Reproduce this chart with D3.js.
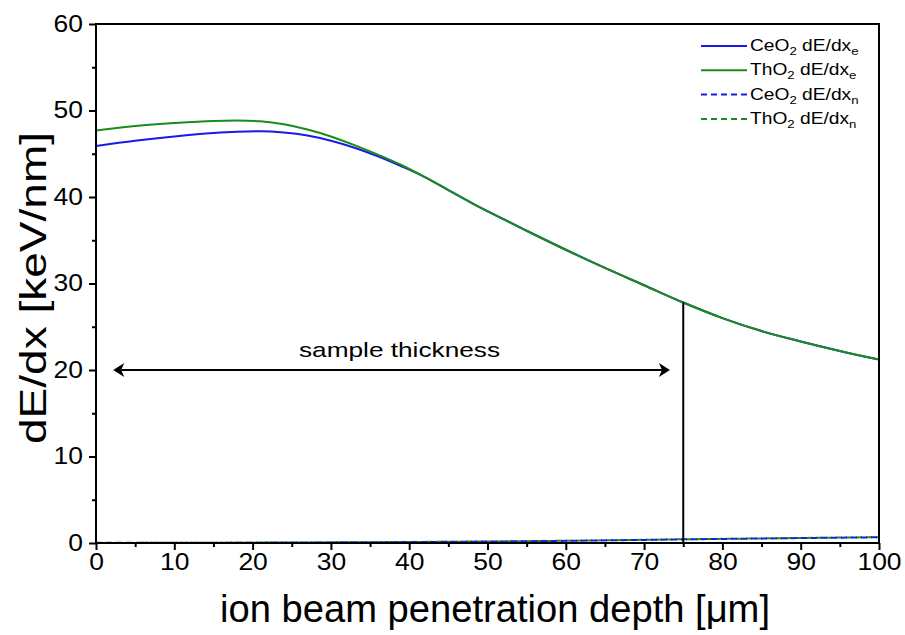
<!DOCTYPE html>
<html>
<head>
<meta charset="utf-8">
<script src="https://cdn.jsdelivr.net/npm/d3@7"></script>
<style>
  html, body { margin: 0; padding: 0; background: #fff; }
  svg { display: block; font-family: "Liberation Sans", Arial, sans-serif; }
</style>
</head>
<body>
<svg id="chart" width="905" height="635"></svg>
<script>
// Depth positions (µm) and electronic stopping power (keV/nm)
const depthE   = [0, 5, 10, 15, 18, 21, 24, 27, 30, 33, 36, 39, 42, 45, 48, 51, 55, 60, 65, 70, 75, 80, 85, 90, 95, 100];
const ceO2Elec = [45.9, 46.5, 47.0, 47.4, 47.55, 47.6, 47.45, 47.1, 46.5, 45.7, 44.7, 43.55, 42.3, 40.8, 39.3, 37.9, 36.1, 33.9, 31.8, 29.8, 27.8, 26.0, 24.5, 23.3, 22.2, 21.2];
const thO2Elec = [47.7, 48.2, 48.55, 48.8, 48.85, 48.75, 48.4, 47.8, 47.0, 46.0, 44.9, 43.7, 42.3, 40.8, 39.3, 37.9, 36.1, 33.9, 31.8, 29.8, 27.8, 26.0, 24.5, 23.3, 22.2, 21.2];

// Nuclear stopping power (keV/nm)
const depthN   = [0, 10, 20, 30, 40, 50, 60, 70, 75, 80, 90, 100];
const ceO2Nucl = [0.01, 0.02, 0.04, 0.07, 0.11, 0.17, 0.25, 0.36, 0.42, 0.47, 0.57, 0.66];
const thO2Nucl = [0.02, 0.03, 0.05, 0.08, 0.12, 0.18, 0.26, 0.37, 0.43, 0.48, 0.58, 0.67];

const xTicks = [0, 10, 20, 30, 40, 50, 60, 70, 80, 90, 100];
const yTicks = [0, 10, 20, 30, 40, 50, 60];

const thicknessRange = [2.2, 73.3];
const thicknessLevel = 20;
const thicknessEnd = 75;
const thicknessTop = 27.8;

const seriesNames = ["CeO", "ThO", "CeO", "ThO"];
const seriesSubs = ["e", "e", "n", "n"];

const svg = d3.select("#chart");
const m = { left: 96, right: 879, top: 24, bottom: 543 };

const x = d3.scaleLinear().domain([0, 100]).range([m.left, m.right]);
const y = d3.scaleLinear().domain([0, 60]).range([m.bottom, m.top]);

const BLUE = "#1a1ae8";
const GREEN = "#198c19";

// stretch a text element to a given rendered width
function fitWidth(sel, ratioOrWidth, isRatio) {
  sel.each(function () {
    const w = this.getComputedTextLength();
    const target = isRatio ? w * ratioOrWidth : ratioOrWidth;
    d3.select(this).attr("textLength", target).attr("lengthAdjust", "spacingAndGlyphs");
  });
}

svg.append("defs").append("clipPath").attr("id", "plotclip")
  .append("rect").attr("x", m.left).attr("y", m.top)
  .attr("width", m.right - m.left).attr("height", m.bottom - m.top);

const line = d3.line().x(d => x(d[0])).y(d => y(d[1])).curve(d3.curveMonotoneX);

const plot = svg.append("g").attr("clip-path", "url(#plotclip)");

const series = [
  { xs: depthN, ys: thO2Nucl, color: GREEN, dash: "6,4" },
  { xs: depthN, ys: ceO2Nucl, color: BLUE, dash: "6,4", offset: 5 },
  { xs: depthE, ys: ceO2Elec, color: BLUE, dash: null },
  { xs: depthE, ys: thO2Elec, color: GREEN, dash: null }
];
series.forEach(s => {
  plot.append("path")
    .datum(s.xs.map((v, i) => [v, s.ys[i]]))
    .attr("d", line)
    .attr("fill", "none")
    .attr("stroke", s.color)
    .attr("stroke-width", 2)
    .attr("stroke-dasharray", s.dash)
    .attr("stroke-dashoffset", s.offset || 0);
});

// Sample-thickness marker: vertical line from the axis up to the curve
svg.append("line")
  .attr("x1", x(thicknessEnd)).attr("x2", x(thicknessEnd))
  .attr("y1", y(0)).attr("y2", y(thicknessTop))
  .attr("stroke", "#000").attr("stroke-width", 2);

// Double-headed arrow
const ay = y(thicknessLevel);
const ax1 = x(thicknessRange[0]), ax2 = x(thicknessRange[1]);
svg.append("line")
  .attr("x1", ax1 + 8).attr("x2", ax2 - 8)
  .attr("y1", ay).attr("y2", ay)
  .attr("stroke", "#000").attr("stroke-width", 2);
svg.append("path")
  .attr("d", `M${ax1},${ay} L${ax1 + 11},${ay - 7} L${ax1 + 8},${ay} L${ax1 + 11},${ay + 7} Z`)
  .attr("fill", "#000");
svg.append("path")
  .attr("d", `M${ax2},${ay} L${ax2 - 11},${ay - 7} L${ax2 - 8},${ay} L${ax2 - 11},${ay + 7} Z`)
  .attr("fill", "#000");
svg.append("text")
  .attr("x", 299).attr("y", ay - 13)
  .attr("font-size", 21)
  .text("sample thickness")
  .call(fitWidth, 201, false);

// Axes
const xAxis = svg.append("g").attr("transform", `translate(0,${m.bottom})`)
  .call(d3.axisBottom(x).tickValues(xTicks).tickSize(7).tickPadding(4).tickFormat(d3.format("d")));
const xMinor = svg.append("g").attr("transform", `translate(0,${m.bottom})`)
  .call(d3.axisBottom(x).tickValues(xTicks.slice(0, -1).map(v => v + 5)).tickSize(4).tickFormat(""));
const yAxis = svg.append("g").attr("transform", `translate(${m.left},0)`)
  .call(d3.axisLeft(y).tickValues(yTicks).tickSize(7).tickPadding(6).tickFormat(d3.format("d")));
const yMinor = svg.append("g").attr("transform", `translate(${m.left},0)`)
  .call(d3.axisLeft(y).tickValues(yTicks.slice(0, -1).map(v => v + 5)).tickSize(4).tickFormat(""));

[xAxis, xMinor, yAxis, yMinor].forEach(g => {
  g.select(".domain").remove();
  g.selectAll("line").attr("stroke", "#000").attr("stroke-width", 2);
  g.selectAll("text").attr("font-size", 23).attr("fill", "#000")
    .attr("font-family", "'Liberation Sans', Arial, sans-serif")
    .call(fitWidth, 1.15, true);
});

// Frame
svg.append("rect")
  .attr("x", m.left).attr("y", m.top)
  .attr("width", m.right - m.left).attr("height", m.bottom - m.top)
  .attr("fill", "none").attr("stroke", "#000").attr("stroke-width", 2);

// Axis titles
svg.append("text")
  .attr("x", 495).attr("y", 622)
  .attr("text-anchor", "middle").attr("font-size", 38)
  .text("ion beam penetration depth [μm]")
  .call(fitWidth, 550, false);

svg.append("text")
  .attr("transform", `translate(46,288) rotate(-90)`)
  .attr("text-anchor", "middle").attr("font-size", 36)
  .text("dE/dx [keV/nm]")
  .call(fitWidth, 312, false);

// Legend
const legendItems = [
  { color: BLUE, dash: null },
  { color: GREEN, dash: null },
  { color: BLUE, dash: "6,4" },
  { color: GREEN, dash: "6,4" }
];
const legend = svg.append("g");
legendItems.forEach((it, i) => {
  const ly = 46 + i * 24.3;
  legend.append("line")
    .attr("x1", 701).attr("x2", 747).attr("y1", ly).attr("y2", ly)
    .attr("stroke", it.color).attr("stroke-width", 2)
    .attr("stroke-dasharray", it.dash);
  const g = legend.append("g").attr("transform", `translate(750,${ly + 5}) scale(1.2,1)`);
  const t = g.append("text").attr("x", 0).attr("y", 0).attr("font-size", 16);
  t.append("tspan").text(seriesNames[i]);
  t.append("tspan").attr("font-size", 11).attr("dy", 4).text("2");
  t.append("tspan").attr("dy", -4).text(" dE/dx");
  t.append("tspan").attr("font-size", 11).attr("dy", 4).text(seriesSubs[i]);
});
</script>
</body>
</html>
